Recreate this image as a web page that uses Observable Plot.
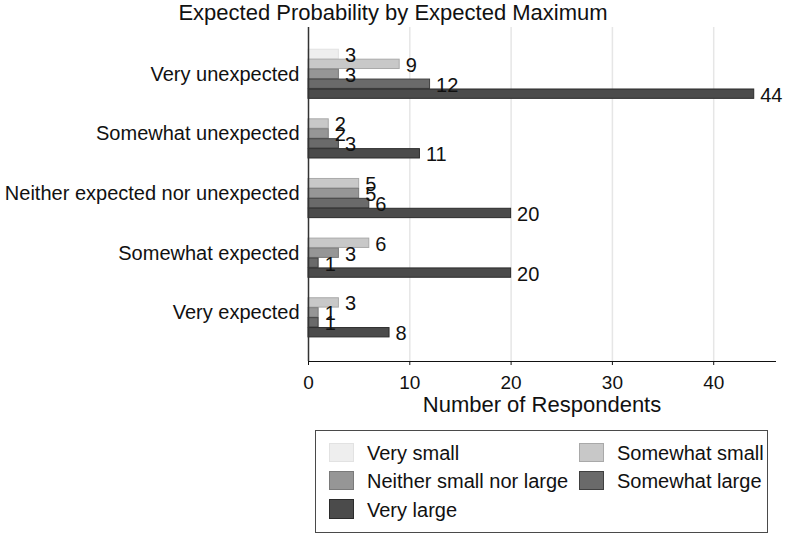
<!DOCTYPE html>
<html>
<head>
<meta charset="utf-8">
<script src="https://cdn.jsdelivr.net/npm/d3@7"></script>
<script src="https://cdn.jsdelivr.net/npm/@observablehq/plot@0.6"></script>
<style>
  body { margin: 0; background: #fff; font-family: "Liberation Sans", Arial, Helvetica, sans-serif; color: #111; }
  #wrap { position: relative; width: 786px; height: 536px; overflow: hidden; background: #fff; }
  #title { position: absolute; left: 0; top: 0; width: 786px; text-align: center; font-size: 22px; line-height: 26px; white-space: nowrap; }
  #chart { position: absolute; left: 0; top: 26px; }
  #legendbox { position: absolute; left: 315px; top: 429.5px; width: 453px; height: 103.5px; border: 1.5px solid #4a4a4a; box-sizing: border-box; }
  .sw { position: absolute; width: 25px; height: 19.5px; box-sizing: border-box; border: 1.5px solid; }
  .lt { position: absolute; font-size: 20px; line-height: 20px; white-space: nowrap; }
  #chart svg g[aria-label^="x-axis"] text { font-size: 19px; }
</style>
</head>
<body>
<div id="wrap">
  <div id="title"></div>
  <div id="chart"></div>
  <div id="legendbox"></div>
</div>
<script>
// ---- data ----
const titleText = "Expected Probability by Expected Maximum";
const xLabel = "Number of Respondents";
const groups = ["Very unexpected", "Somewhat unexpected", "Neither expected nor unexpected", "Somewhat expected", "Very expected"];
const seriesNames = ["Very small", "Somewhat small", "Neither small nor large", "Somewhat large", "Very large"];
const verySmall     = [3, null, null, null, null];
const somewhatSmall = [9, 2, 5, 6, 3];
const neitherSL     = [3, 2, 5, 3, 1];
const somewhatLarge = [12, 3, 6, 1, 1];
const veryLarge     = [44, 11, 20, 20, 8];
const xTicks = [0, 10, 20, 30, 40];
const gridTicks = [10, 20, 30, 40];

// ---- styles ----
const fills   = ["#eeeeee", "#c8c8c8", "#969696", "#6a6a6a", "#4b4b4b"];
const strokes = ["#e2e2e2", "#a9a9a9", "#7a7a7a", "#404040", "#2b2b2b"];

const seriesValues = [verySmall, somewhatSmall, neitherSL, somewhatLarge, veryLarge];

const rows = [];
groups.forEach((g, gi) => {
  seriesNames.forEach((s, si) => {
    const v = seriesValues[si][gi];
    if (v != null) rows.push({group: g, series: s, gi, si, key: gi + "|" + si, value: v});
  });
});

const yDomain = [];
groups.forEach((g, gi) => {
  seriesNames.forEach((s, si) => yDomain.push(gi + "|" + si));
  if (gi < groups.length - 1) yDomain.push("gap" + gi);
});
const labelKeys = groups.map((g, gi) => gi + "|2");

document.getElementById("title").textContent = titleText;

const chart = Plot.plot({
  width: 786,
  height: 400,
  marginTop: 1,
  marginBottom: 65,
  marginLeft: 308,
  marginRight: 11,
  style: {fontSize: "20px", fontFamily: "'Liberation Sans', Arial, Helvetica, sans-serif", color: "#111", background: "transparent", overflow: "visible"},
  x: {domain: [0, 46.1], ticks: xTicks, tickSize: 4, tickPadding: 10, line: true, label: null},
  y: {domain: yDomain, round: false, paddingInner: 0.06, paddingOuter: 2.33, align: 0.48, ticks: labelKeys,
      tickFormat: k => groups[+String(k).split("|")[0]], tickSize: 0, tickPadding: 9, label: null},
  color: {type: "identity"},
  marks: [
    Plot.ruleX(gridTicks, {stroke: "#e6e6e6", strokeWidth: 1.5}),
    Plot.barX(rows, {x: "value", y: "key", fill: d => fills[d.si], stroke: d => strokes[d.si], strokeWidth: 1}),
    Plot.ruleX([0], {stroke: "#333", strokeWidth: 1.5}),
    Plot.text(rows, {x: "value", y: "key", text: d => String(d.value), dx: 6, dy: 1, textAnchor: "start", fontSize: 20, fill: "#111"}),
    Plot.text([xLabel], {frameAnchor: "bottom", lineAnchor: "middle", text: d => d, dy: 43.7, fontSize: 22, fill: "#111"})
  ]
});
document.getElementById("chart").appendChild(chart);

// ---- legend ----
const wrap = document.getElementById("wrap");
const swX = [329, 579], txX = [367, 617];
seriesNames.forEach((s, k) => {
  const col = k % 2, row = Math.floor(k / 2);
  const base = 460 + 28.3 * row;
  const sw = document.createElement("div");
  sw.className = "sw";
  sw.style.left = swX[col] + "px";
  sw.style.top = (base - 17.5) + "px";
  sw.style.background = fills[k];
  sw.style.borderColor = strokes[k];
  wrap.appendChild(sw);
  const t = document.createElement("div");
  t.className = "lt";
  t.style.left = txX[col] + "px";
  t.style.top = (base - 16.9) + "px";
  t.textContent = s;
  wrap.appendChild(t);
});
</script>
</body>
</html>
